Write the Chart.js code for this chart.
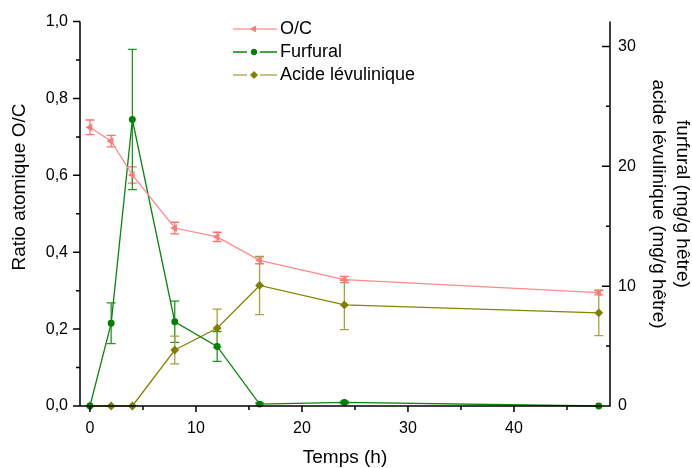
<!DOCTYPE html>
<html>
<head>
<meta charset="utf-8">
<script src="https://cdn.jsdelivr.net/npm/chart.js@4.4.1/dist/chart.umd.min.js"></script>
<style>
  body { margin: 0; background: #fff; }
</style>
</head>
<body>
<canvas id="chartOC" width="692" height="468"></canvas>
<script>
// DATA
var hours = [0, 2, 4, 8, 12, 16, 24, 48];
var ocRatio = [0.725, 0.689, 0.601, 0.463, 0.440, 0.379, 0.329, 0.295];
var ocErr = [0.019, 0.015, 0.021, 0.015, 0.012, 0.009, 0.008, 0.006];
var furfural = [0, 6.9, 23.9, 7.03, 4.97, 0.16, 0.3, 0];
var furfuralErr = [0, 1.7, 5.85, 1.72, 1.24, 0.1, 0.1, 0];
var levulinic = [0, 0, 0, 4.67, 6.49, 10.06, 8.43, 7.77];
var levulinicErr = [0, 0, 0, 1.16, 1.6, 2.43, 2.05, 1.9];

var xTicks = [0, 10, 20, 30, 40];
var xMinor = [5, 15, 25, 35, 45];
var leftTicks = [0, 0.2, 0.4, 0.6, 0.8, 1.0];
var leftMinor = [0.1, 0.3, 0.5, 0.7, 0.9];
var rightTicks = [0, 10, 20, 30];
var rightMinor = [5, 15, 25];

var seriesNames = ["O/C", "Furfural", "Acide lévulinique"];
var xTitle = "Temps (h)";
var leftTitle = "Ratio atomique O/C";
var rightTitle = ["furfural (mg/g hêtre)", "acide lévulinique (mg/g hêtre)"];

var FONT = '"Liberation Sans", Arial, sans-serif';

function pts(ys) {
  return hours.map(function (h, i) { return { x: h, y: ys[i] }; });
}

function fixTicks(list) {
  return function (scale) {
    scale.ticks = list.map(function (v) { return { value: v }; });
  };
}

// error bars, drawn under the lines
var errorBars = {
  id: "errorBars",
  beforeDatasetsDraw: function (chart) {
    var ctx = chart.ctx;
    var xs = chart.scales.x;
    chart.data.datasets.forEach(function (ds) {
      var ys = chart.scales[ds.yAxisID];
      ctx.save();
      ctx.strokeStyle = ds.errorColor;
      ctx.lineWidth = 1.3;
      ds.data.forEach(function (p, j) {
        var e = ds.errors[j];
        if (!e) return;
        var px = xs.getPixelForValue(p.x);
        var top = ys.getPixelForValue(p.y + e);
        var bot = ys.getPixelForValue(p.y - e);
        ctx.beginPath();
        ctx.moveTo(px, top); ctx.lineTo(px, bot);
        ctx.moveTo(px - 4.5, top); ctx.lineTo(px + 4.5, top);
        ctx.moveTo(px - 4.5, bot); ctx.lineTo(px + 4.5, bot);
        ctx.stroke();
      });
      ctx.restore();
    });
  }
};

// axes lines, tick marks, titles and legend
var frame = {
  id: "frame",
  afterDraw: function (chart) {
    var ctx = chart.ctx;
    var a = chart.chartArea;
    var xs = chart.scales.x, yl = chart.scales.yL, yr = chart.scales.yR;
    ctx.save();
    ctx.strokeStyle = "#000";
    ctx.lineWidth = 1.5;
    ctx.beginPath();
    ctx.moveTo(a.left, a.top); ctx.lineTo(a.left, a.bottom); ctx.lineTo(a.right, a.bottom); ctx.lineTo(a.right, a.top);
    xTicks.forEach(function (v) { var p = xs.getPixelForValue(v); ctx.moveTo(p, a.bottom); ctx.lineTo(p, a.bottom + 6); });
    xMinor.forEach(function (v) { var p = xs.getPixelForValue(v); ctx.moveTo(p, a.bottom); ctx.lineTo(p, a.bottom + 4); });
    leftTicks.forEach(function (v) { var p = yl.getPixelForValue(v); ctx.moveTo(a.left, p); ctx.lineTo(a.left - 7, p); });
    leftMinor.forEach(function (v) { var p = yl.getPixelForValue(v); ctx.moveTo(a.left, p); ctx.lineTo(a.left - 4, p); });
    rightTicks.forEach(function (v) { var p = yr.getPixelForValue(v); ctx.moveTo(a.right, p); ctx.lineTo(a.right - 8, p); });
    rightMinor.forEach(function (v) { var p = yr.getPixelForValue(v); ctx.moveTo(a.right, p); ctx.lineTo(a.right - 4, p); });
    ctx.stroke();

    // titles
    ctx.fillStyle = "#000";
    ctx.font = "19px " + FONT;
    ctx.textAlign = "center";
    ctx.textBaseline = "middle";
    ctx.fillText(xTitle, (a.left + a.right) / 2, 458);
    ctx.save();
    ctx.translate(20, 187);
    ctx.rotate(-Math.PI / 2);
    ctx.fillText(leftTitle, 0, 0);
    ctx.restore();
    ctx.save();
    ctx.translate(682, 204);
    ctx.rotate(Math.PI / 2);
    ctx.fillText(rightTitle[0], 0, 0);
    ctx.fillText(rightTitle[1], 0, 24);
    ctx.restore();

    // legend
    ctx.font = "18px " + FONT;
    ctx.textAlign = "left";
    chart.data.datasets.forEach(function (ds, i) {
      var y = 29 + i * 23;
      ctx.strokeStyle = ds.legendLine;
      ctx.lineWidth = 1.5;
      ctx.beginPath();
      if (i === 0) {
        ctx.moveTo(233, y); ctx.lineTo(277, y);
      } else {
        ctx.moveTo(233, y); ctx.lineTo(247, y);
        ctx.moveTo(260, y); ctx.lineTo(277, y);
      }
      ctx.stroke();
      ctx.fillStyle = ds.backgroundColor;
      ctx.strokeStyle = ds.pointBorderColor;
      ctx.lineWidth = 1;
      Chart.helpers.drawPoint(ctx, {
        pointStyle: ds.pointStyle, radius: ds.pointRadius, rotation: ds.pointRotation || 0, borderWidth: 1
      }, 254, y);
      ctx.fillStyle = "#000";
      ctx.fillText(seriesNames[i], 280, y);
    });
    ctx.restore();
  }
};

new Chart("chartOC", {
  type: "line",
  data: {
    datasets: [
      {
        label: seriesNames[0],
        data: pts(ocRatio),
        yAxisID: "yL",
        borderColor: "#ff8a8a",
        backgroundColor: "#ff7b7b",
        pointBorderColor: "#ff7b7b",
        borderWidth: 1.3,
        pointStyle: "triangle",
        pointRotation: -90,
        pointRadius: 3.2,
        errors: ocErr,
        errorColor: "#ff7070",
        legendLine: "#ff9e9e",
        clip: false
      },
      {
        label: seriesNames[1],
        data: pts(furfural),
        yAxisID: "yR",
        borderColor: "#0a860a",
        backgroundColor: "#008000",
        pointBorderColor: "#008000",
        borderWidth: 1.3,
        pointStyle: "circle",
        pointRadius: 2.8,
        errors: furfuralErr,
        errorColor: "#239623",
        legendLine: "#0a860a",
        clip: false
      },
      {
        label: seriesNames[2],
        data: pts(levulinic),
        yAxisID: "yR",
        borderColor: "#858500",
        backgroundColor: "#808000",
        pointBorderColor: "#808000",
        borderWidth: 1.3,
        pointStyle: "rectRot",
        pointRadius: 3.5,
        errors: levulinicErr,
        errorColor: "#a3a340",
        legendLine: "#b0b060",
        clip: false
      }
    ]
  },
  options: {
    responsive: false,
    animation: false,
    layout: { padding: { top: 17, left: 0, right: 0, bottom: 0 } },
    plugins: { legend: { display: false }, tooltip: { enabled: false } },
    scales: {
      x: {
        type: "linear",
        min: -0.94,
        max: 49.06,
        afterBuildTicks: fixTicks(xTicks),
        afterFit: function (s) { s.height = 62; },
        grid: { display: false, drawTicks: false },
        border: { display: false },
        ticks: { color: "#000", padding: 13, font: { family: FONT, size: 16 }, maxRotation: 0 }
      },
      yL: {
        position: "left",
        min: 0,
        max: 1,
        afterBuildTicks: fixTicks(leftTicks),
        afterFit: function (s) { s.width = 80; },
        grid: { display: false, drawTicks: false },
        border: { display: false },
        ticks: {
          color: "#000", padding: 12, font: { family: FONT, size: 16 },
          callback: function (v) { return v.toFixed(1).replace(".", ","); }
        }
      },
      yR: {
        position: "right",
        min: 0,
        max: 32.07,
        afterBuildTicks: fixTicks(rightTicks),
        afterFit: function (s) { s.width = 82; },
        grid: { display: false, drawTicks: false },
        border: { display: false },
        ticks: { color: "#000", padding: 8, font: { family: FONT, size: 16 } }
      }
    }
  },
  plugins: [errorBars, frame]
});
</script>
</body>
</html>
